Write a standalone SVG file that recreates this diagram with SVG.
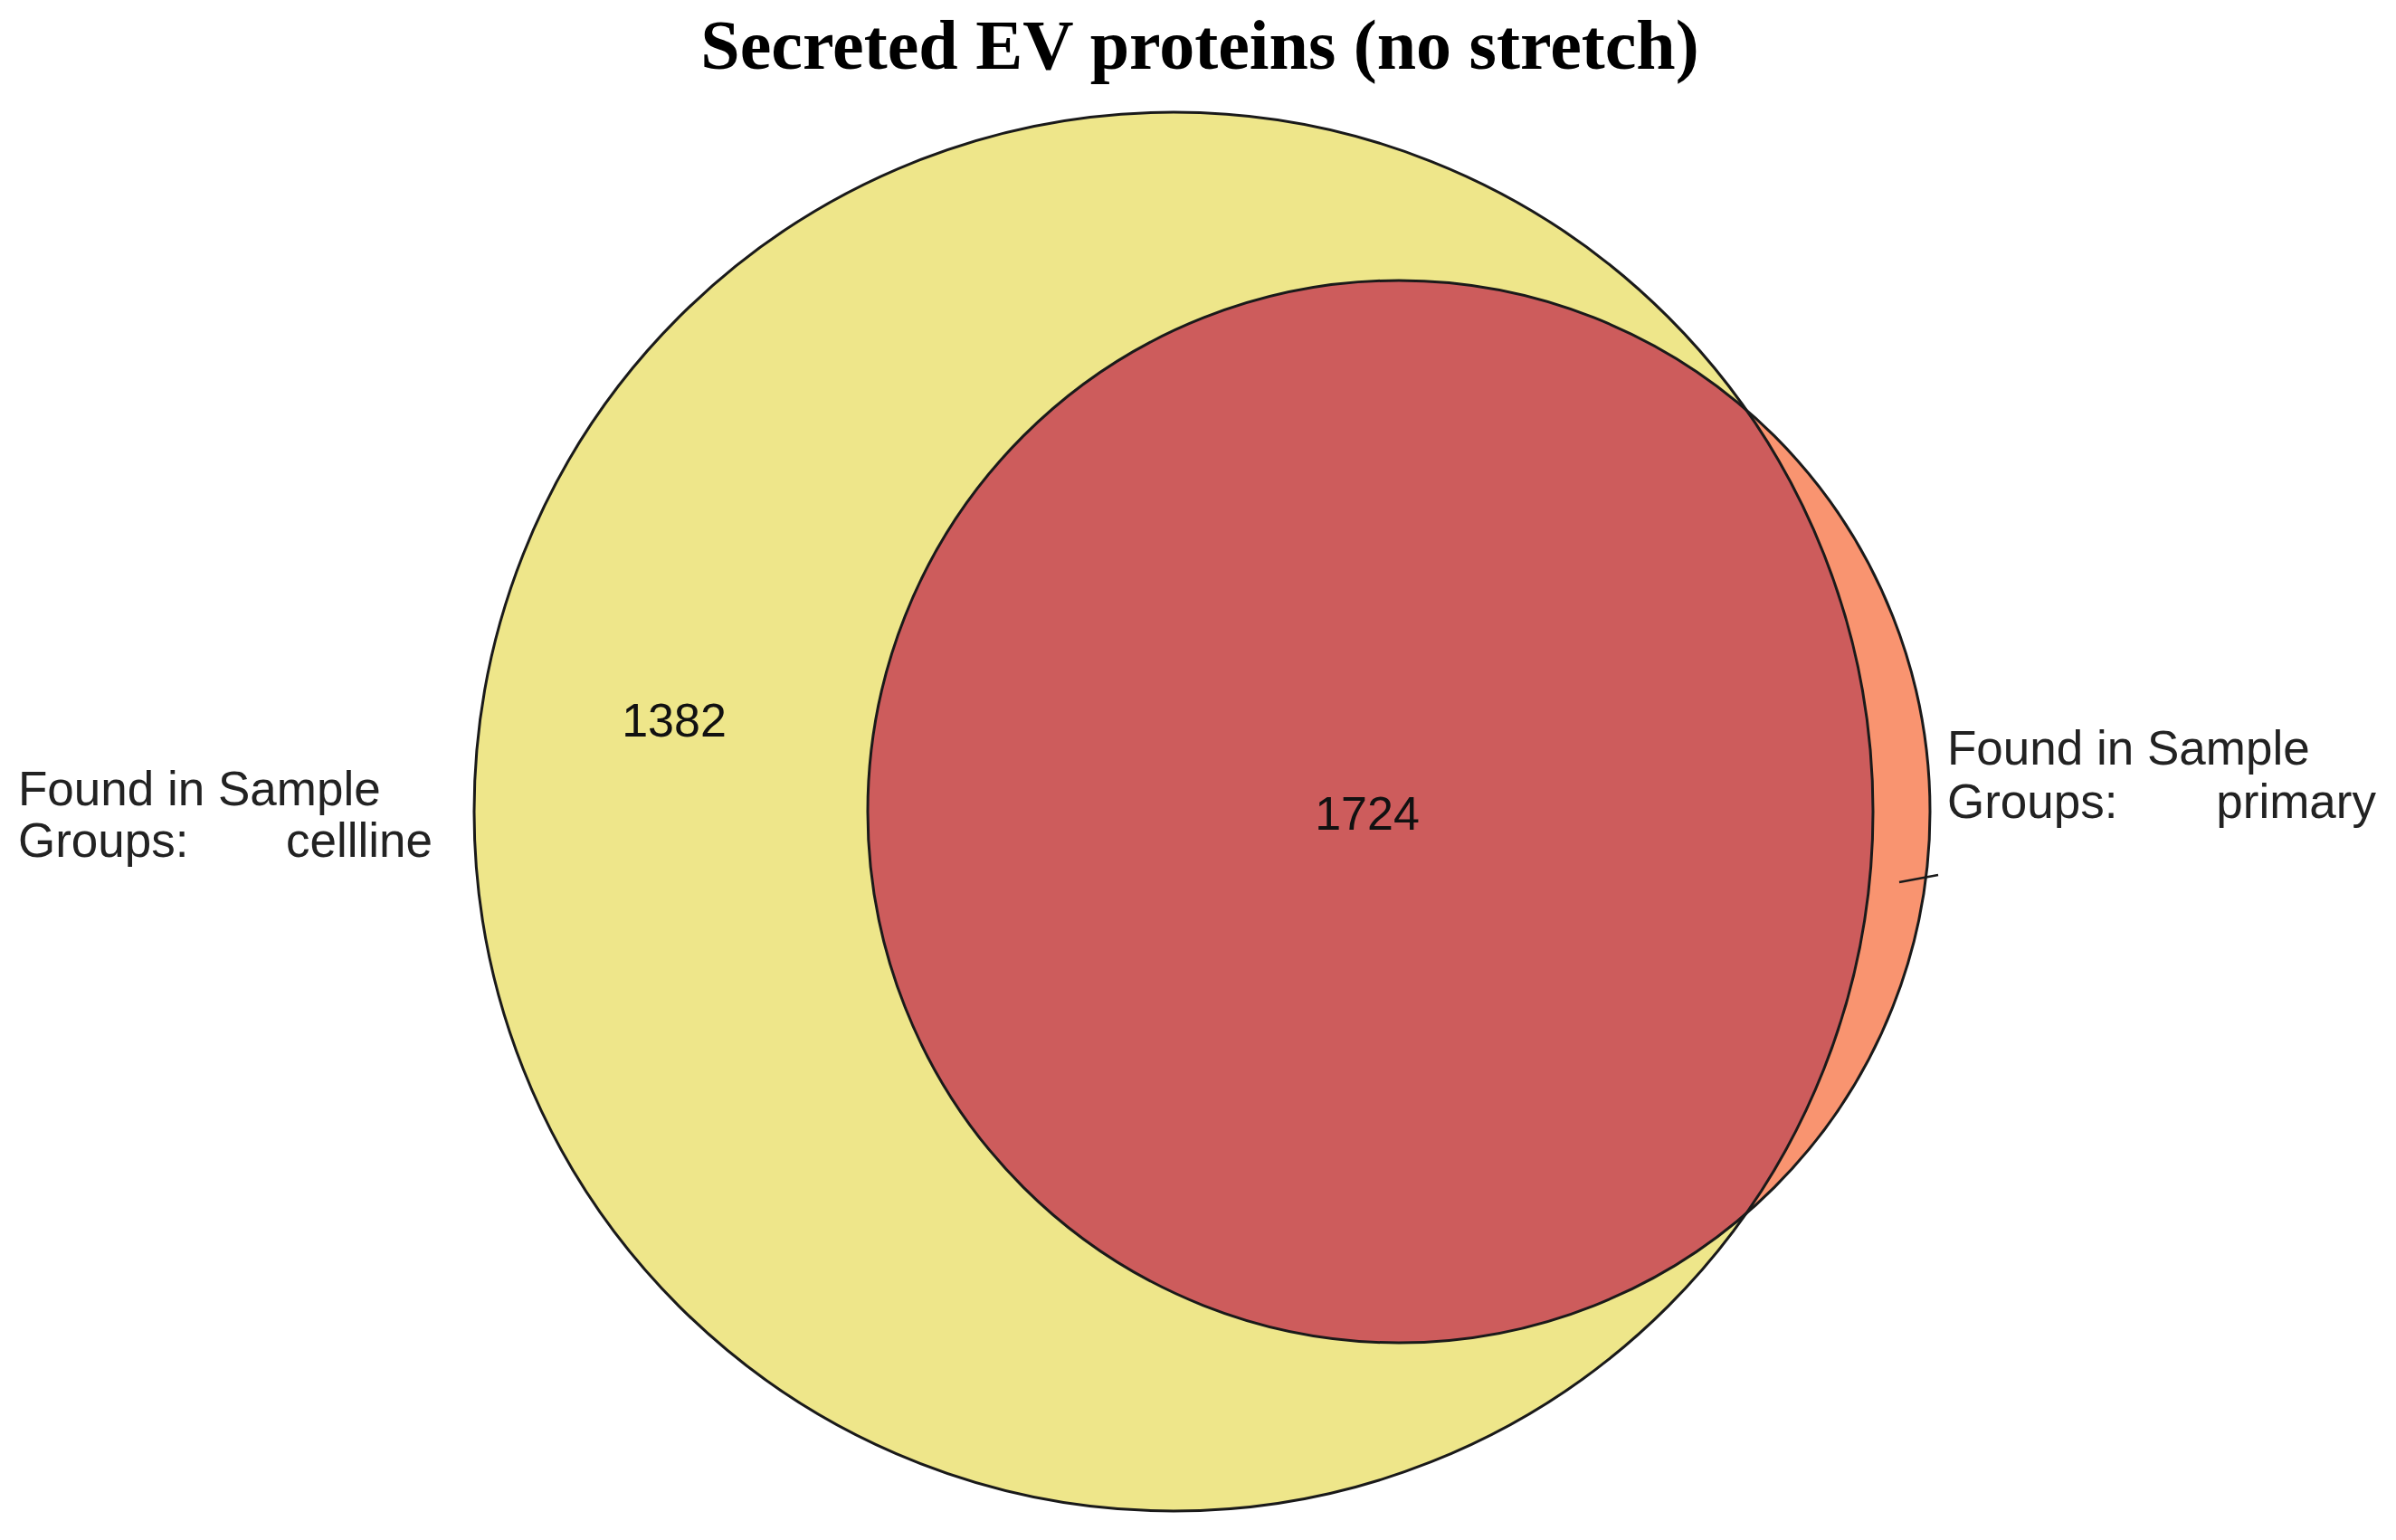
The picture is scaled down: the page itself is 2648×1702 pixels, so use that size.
<svg xmlns="http://www.w3.org/2000/svg" width="2648" height="1702" viewBox="0 0 2648 1702">
<style>
.lbl{font-family:"Liberation Sans",Arial,sans-serif;font-size:53px;fill:#222}
.num{font-family:"Liberation Sans",Arial,sans-serif;font-size:52px;fill:#111}
.title{font-family:"Liberation Serif","Times New Roman",serif;font-size:78px;font-weight:bold;fill:#000}
.outline{fill:none;stroke:#1a1a1a;stroke-width:3}
</style>
<defs>
<clipPath id="clipCell"><circle cx="1297" cy="897" r="773"/></clipPath>
</defs>
<rect width="2648" height="1702" fill="#fff"/>
<text class="title" x="1326" y="76" text-anchor="middle">Secreted EV proteins (no stretch)</text>
<g id="cellline">
<circle cx="1297" cy="897" r="773" fill="#EEE68A"/>
</g>
<g id="primary">
<circle cx="1546" cy="897" r="587" fill="#F99470"/>
</g>
<g id="intersection">
<circle cx="1546" cy="897" r="587" fill="#CD5C5C" clip-path="url(#clipCell)"/>
</g>
<g id="outlines">
<circle class="outline" cx="1297" cy="897" r="773"/>
<circle class="outline" cx="1546" cy="897" r="587"/>
</g>
<g id="connectors">
<line x1="2099" y1="975" x2="2142" y2="967" stroke="#1a1a1a" stroke-width="2.5"/>
</g>
<g id="labels">
<text class="num" x="745" y="814" text-anchor="middle">1382</text>
<text class="num" x="1511" y="917" text-anchor="middle">1724</text>
<text class="lbl" x="20" y="890">Found in Sample</text>
<text class="lbl" x="20" y="947">Groups:</text>
<text class="lbl" x="478" y="947" text-anchor="end">cellline</text>
<text class="lbl" x="2152" y="845">Found in Sample</text>
<text class="lbl" x="2152" y="904">Groups:</text>
<text class="lbl" x="2626" y="904" text-anchor="end">primary</text>
</g>
</svg>
